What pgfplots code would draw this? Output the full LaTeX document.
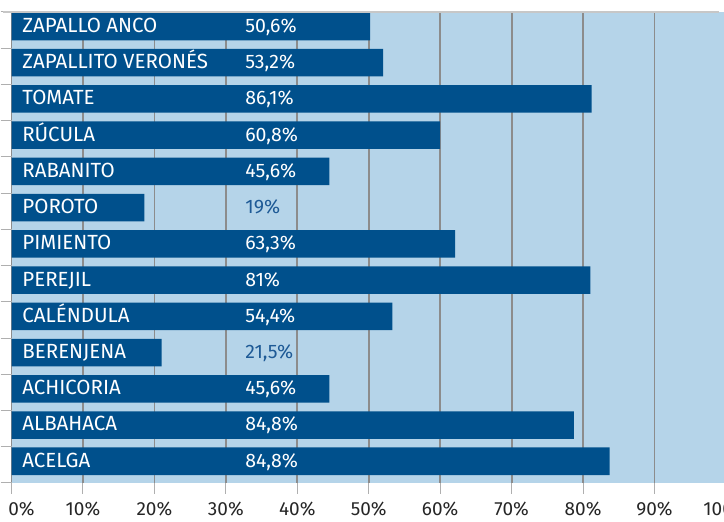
\documentclass[border=0pt]{standalone}
\usepackage{fontspec}
\setmainfont{Fira Sans}
\usepackage{pgfplots}
\pgfplotsset{compat=1.18}

\definecolor{barblue}{RGB}{0,80,140}
\definecolor{bgblue}{RGB}{181,212,233}
\definecolor{gridgray}{RGB}{140,140,140}
\definecolor{tickgray}{RGB}{175,175,175}
\definecolor{textblue}{RGB}{30,90,150}

\begin{document}
\begin{tikzpicture}
\begin{axis}[
  at={(11.5bp,39bp)}, anchor=south west,
  scale only axis, width=714.5bp, height=471bp,
  xmin=0, xmax=100, ymin=-0.6, ymax=12.4,
  clip=false,
  axis background/.style={fill=bgblue},
  axis line style={draw=none},
  xtick={0,10,20,30,40,50,60,70,80,90,100},
  xticklabels={\hspace*{20bp}0\%,10\%,20\%,30\%,40\%,50\%,60\%,70\%,80\%,90\%,100\%},
  ytick={-0.6,0.4,1.4,2.4,3.4,4.4,5.4,6.4,7.4,8.4,9.4,10.4,11.4,12.4},
  yticklabels={},
  xtick pos=bottom, ytick pos=left,
  tick align=outside, major tick length=11bp,
  tick style={color=tickgray, line width=1bp},
  xmajorgrids, grid style={gridgray, line width=1.8bp},
  xticklabel style={font=\fontsize{19bp}{22bp}\selectfont, text=black!85,
    anchor=base, yshift=-21bp},
]
% bar lengths as drawn
\addplot[xbar, bar width=0.76, bar shift=0pt, fill=barblue, draw=none] coordinates {
  (83.7,0) (78.7,1) (44.5,2) (21.0,3) (53.3,4) (81.0,5) (62.1,6)
  (18.6,7) (44.5,8) (60.0,9) (81.2,10) (52.0,11) (50.2,12)};
% category names
\addplot[only marks, mark=*, mark size=0pt, mark options={draw=none,fill=none},
  point meta=explicit symbolic, nodes near coords, nodes near coords align={horizontal},
  every node near coord/.style={anchor=west, inner sep=0pt, text=white, yshift=-2.5bp,
    text height=0.69em, text depth=0pt, font=\fontsize{20.5bp}{24bp}\selectfont}]
  coordinates {
  (1.5,0) [ACELGA] (1.5,1) [ALBAHACA] (1.5,2) [ACHICORIA] (1.5,3) [BERENJENA]
  (1.5,4) [CALÉNDULA] (1.5,5) [PEREJIL] (1.5,6) [PIMIENTO] (1.5,7) [POROTO]
  (1.5,8) [RABANITO] (1.5,9) [RÚCULA] (1.5,10) [TOMATE]
  (1.5,11) [ZAPALLITO VERONÉS] (1.5,12) [ZAPALLO ANCO]};
% values printed on the bars
\addplot[only marks, mark=*, mark size=0pt, mark options={draw=none,fill=none},
  point meta=explicit symbolic, nodes near coords, nodes near coords align={horizontal},
  every node near coord/.style={anchor=west, inner sep=0pt, text=white, yshift=-2.5bp,
    text height=0.69em, text depth=0pt, font=\fontsize{19.5bp}{24bp}\selectfont}]
  coordinates {
  (32.7,0) [84,8\%] (32.7,1) [84,8\%] (32.7,2) [45,6\%] (32.7,4) [54,4\%]
  (32.7,5) [81\%] (32.7,6) [63,3\%] (32.7,8) [45,6\%] (32.7,9) [60,8\%]
  (32.7,10) [86,1\%] (32.7,11) [53,2\%] (32.7,12) [50,6\%]};
% values beside the short bars
\addplot[only marks, mark=*, mark size=0pt, mark options={draw=none,fill=none},
  point meta=explicit symbolic, nodes near coords, nodes near coords align={horizontal},
  every node near coord/.style={anchor=west, inner sep=0pt, text=textblue, yshift=-2.5bp,
    text height=0.69em, text depth=0pt, font=\fontsize{19.5bp}{24bp}\selectfont}]
  coordinates {(32.7,3) [21,5\%] (32.7,7) [19\%]};
\draw[tickgray!70, line width=1.2bp] (rel axis cs:-0.012,1) -- (rel axis cs:0.99,1);
\end{axis}
\pgfresetboundingbox
\path[use as bounding box] (0,0) rectangle (724bp,522bp);
\end{tikzpicture}
\end{document}
